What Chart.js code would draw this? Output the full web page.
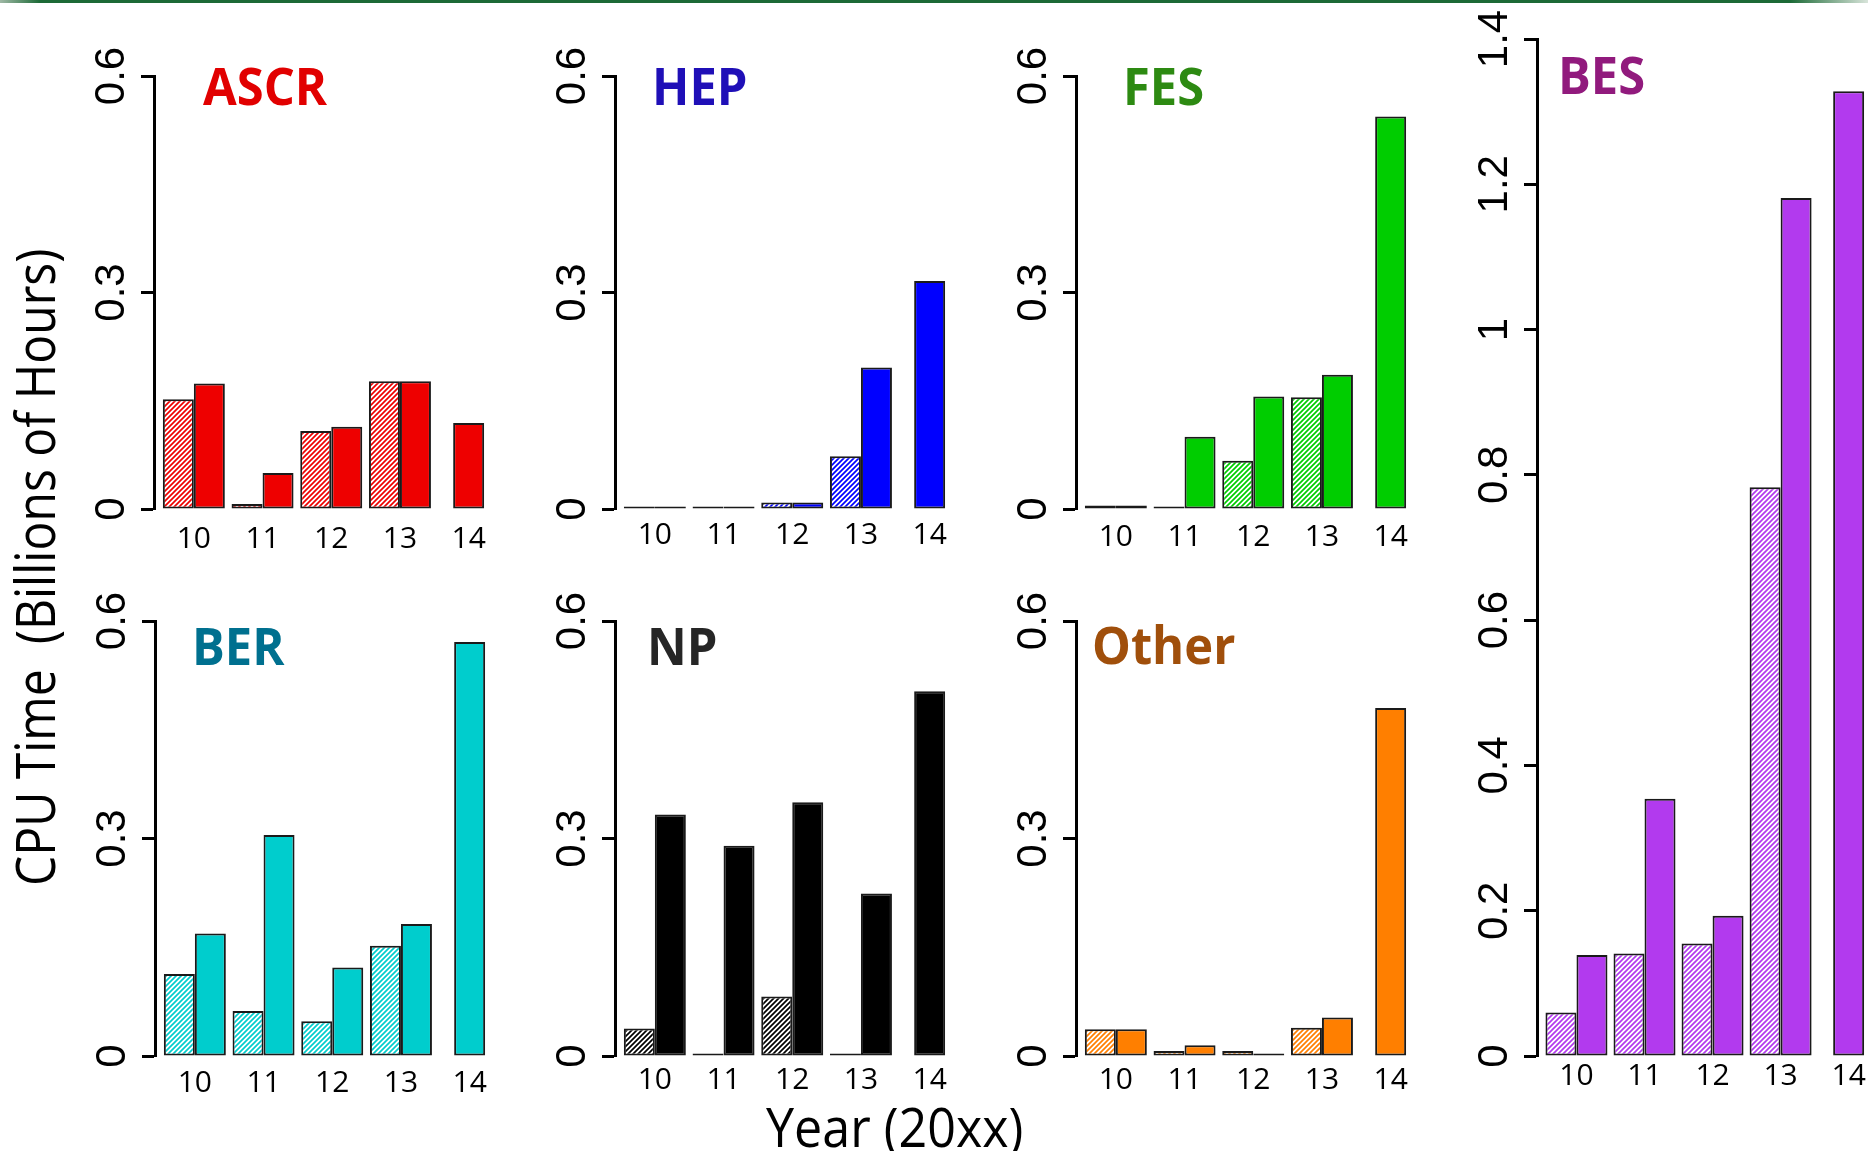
<!DOCTYPE html>
<html>
<head>
<meta charset="utf-8">
<script src="https://cdn.jsdelivr.net/npm/chart.js@4.4.1/dist/chart.umd.min.js"></script>
<style>
  html, body { margin: 0; padding: 0; background: #fff; }
  body { position: relative; width: 1868px; height: 1151px; overflow: hidden; }
  canvas { position: absolute; }
  .topline {
    position: absolute; left: 0; top: 0; width: 1868px; height: 3px;
    background: linear-gradient(90deg, #9fb8a5 0, #1c6a36 40px, #1c6a36 1790px, #d8e4da 1868px);
  }
  .txt {
    position: absolute; font-family: 'Open Sans', sans-serif; white-space: pre;
    transform-origin: 0 0; color: #000;
  }
  .panel-title { font-weight: 700; font-size: 52px; line-height: 52px; transform: scaleX(0.94); }
  .ytitle { font-size: 54px; line-height: 54px; transform: rotate(-90deg) scaleX(0.89); }
  .xtitle { font-size: 54px; line-height: 54px; transform: scaleX(0.93); }
</style>
</head>
<body>
<div class="topline"></div>
<script>
const years = [10, 11, 12, 13, 14];
const smallTicks = [0, 0.3, 0.6];
const besTicks = [0, 0.2, 0.4, 0.6, 0.8, 1, 1.2, 1.4];

// first bar of each pair is shaded, second is solid; null = no bar
const ascrShaded = [0.152, 0.007, 0.108, 0.177, null];
const ascrSolid = [0.174, 0.050, 0.114, 0.177, 0.119];
const hepShaded = [0, 0, 0.009, 0.073, null];
const hepSolid = [0, 0, 0.009, 0.196, 0.316];
const fesShaded = [0.005, 0, 0.067, 0.155, null];
const fesSolid = [0.005, 0.100, 0.156, 0.186, 0.544];
const besShaded = [0.060, 0.141, 0.155, 0.783, null];
const besSolid = [0.139, 0.354, 0.193, 1.181, 1.328];
const berShaded = [0.113, 0.062, 0.048, 0.152, null];
const berSolid = [0.169, 0.305, 0.122, 0.182, 0.571];
const npShaded = [0.038, 0, 0.082, 0, null];
const npSolid = [0.333, 0.290, 0.350, 0.224, 0.503];
const otherShaded = [0.037, 0.007, 0.007, 0.039, null];
const otherSolid = [0.037, 0.015, 0.003, 0.053, 0.480];

const panels = [
  { name: 'ASCR', color: '#ee0000', titleColor: '#e10000', shaded: ascrShaded, solid: ascrSolid, ticks: smallTicks,
    axisX: 154, top: 76, zero: 509, width: 352, labelGap: 12.7, titleX: 203, titleBase: 105.4 },
  { name: 'HEP', color: '#0000ff', titleColor: '#1f0fb7', shaded: hepShaded, solid: hepSolid, ticks: smallTicks,
    axisX: 615, top: 76, zero: 509, width: 352, labelGap: 8.7, titleX: 652, titleBase: 105.4 },
  { name: 'FES', color: '#00cd00', titleColor: '#2d8a12', shaded: fesShaded, solid: fesSolid, ticks: smallTicks,
    axisX: 1076, top: 76, zero: 509, width: 352, labelGap: 10.7, titleX: 1123, titleBase: 105 },
  { name: 'BES', color: '#b23aee', titleColor: '#911a7d', shaded: besShaded, solid: besSolid, ticks: besTicks,
    axisX: 1537, top: 39, zero: 1056, width: 331, labelGap: 2.2, titleX: 1558, titleBase: 94.3 },
  { name: 'BER', color: '#00cdcd', titleColor: '#00708f', shaded: berShaded, solid: berSolid, ticks: smallTicks,
    axisX: 155, top: 621, zero: 1056, width: 352, labelGap: 9.7, titleX: 192, titleBase: 664.8 },
  { name: 'NP', color: '#000000', titleColor: '#262626', shaded: npShaded, solid: npSolid, ticks: smallTicks,
    axisX: 615, top: 621, zero: 1056, width: 352, labelGap: 6, titleX: 647, titleBase: 664.8 },
  { name: 'Other', color: '#ff7f00', titleColor: '#a04f0b', shaded: otherShaded, solid: otherSolid, ticks: smallTicks,
    axisX: 1076, top: 621, zero: 1056, width: 352, labelGap: 6, titleX: 1092, titleBase: 664 }
];

const X_MIN = 9.42;
const PX_PER_YEAR = 68.7;
const Y_W = 80, X_H = 60, PAD_T = 34, PAD_R = 4;

function hatch(ctx, color) {
  const tile = document.createElement('canvas');
  tile.width = 5;
  tile.height = 5;
  const g = tile.getContext('2d');
  g.fillStyle = '#fff';
  g.fillRect(0, 0, 5, 5);
  g.strokeStyle = color;
  g.lineWidth = 1.7;
  g.beginPath();
  g.moveTo(-1, 6); g.lineTo(6, -1);
  g.moveTo(-1, 1); g.lineTo(1, -1);
  g.moveTo(4, 6); g.lineTo(6, 4);
  g.stroke();
  return ctx.createPattern(tile, 'repeat');
}

function addText(cls, text, left, top, color) {
  const d = document.createElement('div');
  d.className = 'txt ' + cls;
  d.textContent = text;
  d.style.left = left + 'px';
  d.style.top = top + 'px';
  if (color) d.style.color = color;
  document.body.appendChild(d);
}

function makePanel(p) {
  const canvas = document.createElement('canvas');
  const rightPad = p.name === 'BES' ? 0 : PAD_R;
  canvas.width = Y_W + p.width + rightPad;
  canvas.height = PAD_T + (p.zero - p.top) + X_H;
  canvas.style.left = (p.axisX - Y_W) + 'px';
  canvas.style.top = (p.top - PAD_T) + 'px';
  document.body.appendChild(canvas);
  const ctx = canvas.getContext('2d');

  new Chart(canvas, {
    type: 'bar',
    data: {
      datasets: [
        {
          data: years.map((x, i) => ({ x, y: p.shaded[i] })),
          backgroundColor: hatch(ctx, p.color)
        },
        {
          data: years.map((x, i) => ({ x, y: p.solid[i] })),
          backgroundColor: p.color
        }
      ]
    },
    options: {
      responsive: false,
      animation: false,
      devicePixelRatio: 1,
      layout: { padding: { top: PAD_T, right: rightPad, left: 0, bottom: 0 } },
      datasets: {
        bar: {
          barThickness: 31,
          skipNull: true,
          minBarLength: 2.5,
          borderWidth: 2,
          borderColor: '#1a1a1a',
          borderSkipped: false,
          inflateAmount: 0
        }
      },
      plugins: {
        legend: { display: false },
        tooltip: { enabled: false }
      },
      scales: {
        x: {
          type: 'linear',
          min: X_MIN,
          max: X_MIN + p.width / PX_PER_YEAR,
          offset: false,
          grid: { display: false, drawTicks: false },
          border: { display: false },
          afterBuildTicks: s => { s.ticks = years.map(v => ({ value: v })); },
          afterFit: s => { s.height = X_H; },
          ticks: {
            font: { family: 'Open Sans', size: 30 },
            color: '#000',
            padding: p.labelGap,
            maxRotation: 0,
            autoSkip: false,
            callback: v => String(v)
          }
        },
        y: {
          min: 0,
          max: p.ticks[p.ticks.length - 1],
          afterBuildTicks: s => { s.ticks = p.ticks.map(v => ({ value: v })); },
          afterFit: s => { s.width = Y_W; },
          border: { display: true, color: '#000', width: 3 },
          grid: { drawOnChartArea: false, drawTicks: true, tickLength: 13, tickWidth: 3, tickColor: '#000' },
          ticks: {
            font: { family: 'Liberation Sans', size: 42 },
            color: '#000',
            minRotation: 90,
            maxRotation: 90,
            crossAlign: 'center',
            padding: -1,
            autoSkip: false,
            callback: v => String(v)
          }
        }
      }
    }
  });

  addText('panel-title', p.name, p.titleX, p.titleBase - 46.2, p.titleColor);
}

panels.forEach(makePanel);

addText('ytitle', 'CPU Time  (Billions of Hours)', 7, 886);
addText('xtitle', 'Year (20xx)', 766, 1098.6);
</script>
</body>
</html>
